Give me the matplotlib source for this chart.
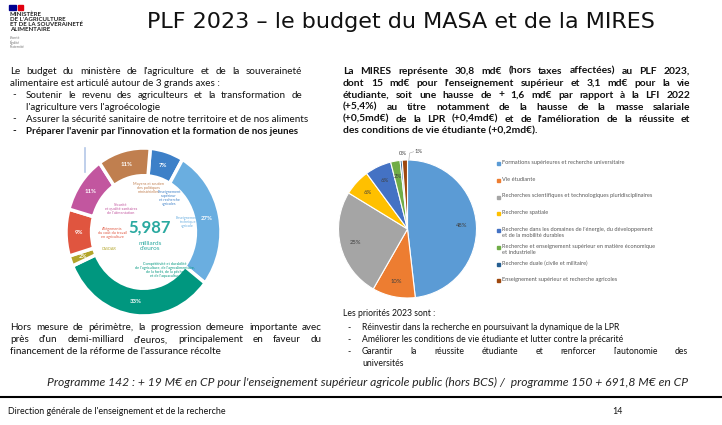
import matplotlib.pyplot as plt
from matplotlib.patches import Rectangle

W, H = 722, 425
plt.rcParams['font.family'] = ['Lato', 'DejaVu Sans']

# MASA budget, donut, clockwise from the top (% of 5,987 md€)
masa_programmes = ["Enseignement\nsupérieur\net recherche\nagricoles",
                   "Enseignement\ntechnique\nagricole",
                   "Compétitivité et durabilité\nde l'agriculture, de l'agroalimentaire,\nde la forêt, de la pêche\net de l'aquaculture",
                   "CASDAR",
                   "Allègements\ndu coût du travail\nen agriculture",
                   "Sécurité\net qualité sanitaires\nde l'alimentation",
                   "Moyens et soutien\ndes politiques\nministérielles"]
masa_pct = [7, 27, 33, 2, 9, 11, 11]
masa_colors = ['#3d80c8', '#6aaee0', '#00977f', '#b3a52a', '#e0553f', '#c2569f', '#c07f4f']
masa_total = "5,987"

# MIRES, pie, md€
mires_programmes = ["Formations supérieures et recherche universitaire",
                    "Vie étudiante",
                    "Recherches scientifiques et technologiques pluridisciplinaires",
                    "Recherche spatiale",
                    "Recherche dans les domaines de l'énergie, du développement\net de la mobilité durables",
                    "Recherche et enseignement supérieur en matière économique\net industrielle",
                    "Recherche duale (civile et militaire)",
                    "Enseignement supérieur et recherche agricoles"]
mires_md = [14.85, 3.10, 7.85, 1.90, 1.90, 0.68, 0.15, 0.38]
mires_colors = ['#5b9bd5', '#ed7d31', '#a5a5a5', '#ffc000', '#4472c4', '#70ad47', '#255e91', '#9e480e']

fig = plt.figure(figsize=(W / 100, H / 100), dpi=100)
r = fig.canvas.get_renderer()


def box(x0, y0, x1, y1):
    return [x0 / W, 1 - y1 / H, (x1 - x0) / W, (y1 - y0) / H]


def put(x, y, s, **kw):
    kw.setdefault('va', 'center')
    return fig.text(x / W, 1 - y / H, s, **kw)


def justify(x0, x1, y, line, **kw):
    words = line.split()
    ts = [put(x0, y, w, **kw) for w in words]
    ws = [t.get_window_extent(r).width for t in ts]
    gap = (x1 - x0 - sum(ws)) / (len(ws) - 1)
    x = x0
    for t, w in zip(ts, ws):
        t.set_x(x / W)
        x += w + gap


# header
fig.add_artist(Rectangle((9 / W, 1 - 10 / H), 7 / W, 5 / H, color='#000091', transform=fig.transFigure))
fig.add_artist(Rectangle((18 / W, 1 - 10 / H), 5 / W, 5 / H, color='#e1000f', transform=fig.transFigure))
put(10, 12, "MINISTÈRE\nDE L'AGRICULTURE\nET DE LA SOUVERAINETÉ\nALIMENTAIRE", va='top',
    fontsize=4.4, fontweight='bold', linespacing=0.95, color='#222222')
put(10, 36, "Liberté\nÉgalité\nFraternité", va='top', fontsize=2.4, color='#777777', linespacing=1.1)
put(401, 22, "PLF 2023 – le budget du MASA et de la MIRES", ha='center', fontsize=16,
    family='DejaVu Sans', color='#111111')

# left text
body = dict(fontsize=7.1, color='#111111')
justify(10, 302, 71, "Le budget du ministère de l'agriculture et de la souveraineté", **body)
put(10, 83, "alimentaire est articulé autour de 3 grands axes :", **body)
for y in (95, 119):
    put(12, y, "-", **body)
put(12, 131, "-", fontweight='bold', **body)
justify(26, 302, 95, "Soutenir le revenu des agriculteurs et la transformation de", **body)
put(26, 107, "l'agriculture vers l'agroécologie", **body)
put(26, 119, "Assurer la sécurité sanitaire de notre territoire et de nos aliments", **body)
put(26, 131, "Préparer l'avenir par l'innovation et la formation de nos jeunes", fontweight='bold', **body)

# right text
bold = dict(fontsize=7.4, color='#111111', fontweight='bold')
right_lines = ["La MIRES représente 30,8 md€ (hors taxes affectées) au PLF 2023,",
               "dont 15 md€ pour l'enseignement supérieur et 3,1 md€ pour la vie",
               "étudiante, soit une hausse de + 1,6 md€ par rapport à la LFI 2022",
               "(+5,4%) au titre notamment de la hausse de la masse salariale",
               "(+0,5md€) de la LPR (+0,4md€) et de l'amélioration de la réussite et"]
for i, line in enumerate(right_lines):
    justify(343, 690, 71 + 12 * i, line, **bold)
put(343, 131, "des conditions de vie étudiante (+0,2md€).", **bold)

# donut
ax1 = fig.add_axes(box(66, 148, 221, 316))
wedges, _, pcts = ax1.pie(masa_pct, colors=masa_colors, startangle=85, counterclock=False,
                          autopct='%.0f%%', pctdistance=0.835,
                          wedgeprops=dict(width=0.33, edgecolor='white', linewidth=2.5),
                          textprops=dict(color='white', fontsize=4.3, fontweight='bold'))
ax1.set_aspect('auto')
ax1.set_xlim(-1, 1)
ax1.set_ylim(-1, 1)
label_xy = [(0.33, 0.40), (0.57, 0.12), (0.28, -0.45), (-0.44, -0.2),
            (-0.40, -0.01), (-0.29, 0.27), (0.06, 0.52)]
for name, c, (x, y) in zip(masa_programmes, masa_colors, label_xy):
    ax1.text(x, y, name, color=c, fontsize=2.7, ha='center', va='center', linespacing=1.0)
ax1.text(0.08, 0.05, masa_total, color='#2aa9a0', fontsize=12, fontweight='bold', ha='center', va='center')
ax1.text(0.08, -0.17, "milliards\nd'euros", color='#2aa9a0', fontsize=4.6, ha='center', va='center',
         linespacing=1.05)
fig.add_artist(plt.Line2D([85 / W, 85 / W], [1 - 148 / H, 1 - 172 / H], color='#b4c7e7', lw=1.2))

# MIRES pie
ax2 = fig.add_axes(box(338, 160, 477, 298))
w2, _, p2 = ax2.pie(mires_md, colors=mires_colors, startangle=90, counterclock=False,
                    autopct='%.0f%%', pctdistance=0.78,
                    wedgeprops=dict(edgecolor='white', linewidth=0.8),
                    textprops=dict(color='#404040', fontsize=4.2))
ax2.set_xlim(-1, 1)
ax2.set_ylim(-1, 1)
p2[6].set_position((-0.07, 1.1))
p2[7].set_position((0.16, 1.12))
ax2.plot([0.02, 0.03, 0.09], [1.0, 1.1, 1.12], color='#a6a6a6', lw=0.4, clip_on=False)

for i, (name, c) in enumerate(zip(mires_programmes, mires_colors)):
    y = 163.5 + 16.75 * i
    fig.add_artist(Rectangle((496.5 / W, 1 - (y + 1.5) / H), 3 / W, 3 / H, color=c,
                             transform=fig.transFigure))
    put(502, y - 3.5, name, va='top', fontsize=4.1, color='#595959', linespacing=1.35)

# bottom texts
low = dict(fontsize=7.1, color='#111111')
justify(10, 322, 328, "Hors mesure de périmètre, la progression demeure importante avec", **low)
justify(10, 322, 340, "près d'un demi-milliard d'euros, principalement en faveur du", **low)
put(10, 352, "financement de la réforme de l'assurance récolte", **low)

pri = dict(fontsize=6.2, color='#111111')
put(343, 314, "Les priorités 2023 sont :", **pri)
for y in (328, 340, 352):
    put(347, y, "-", **pri)
put(362, 328, "Réinvestir dans la recherche en poursuivant la dynamique de la LPR", **pri)
put(362, 340, "Améliorer les conditions de vie étudiante et lutter contre la précarité", **pri)
justify(362, 688, 352, "Garantir la réussite étudiante et renforcer l'autonomie des", **pri)
put(362, 364, "universités", **pri)

put(368, 382, "Programme 142 : + 19 M€ en CP pour l'enseignement supérieur agricole public (hors BCS) /  "
    "programme 150 + 691,8 M€ en CP", ha='center', fontsize=8.7, style='italic', color='#262626')

fig.add_artist(plt.Line2D([0, 1], [1 - 397 / H, 1 - 397 / H], color='black', lw=1.5))
put(8, 411, "Direction générale de l'enseignement et de la recherche", fontsize=6.4, color='#111111')
put(612, 411, "14", fontsize=6.4, color='#111111')

fig.savefig('out.png', dpi=100)
